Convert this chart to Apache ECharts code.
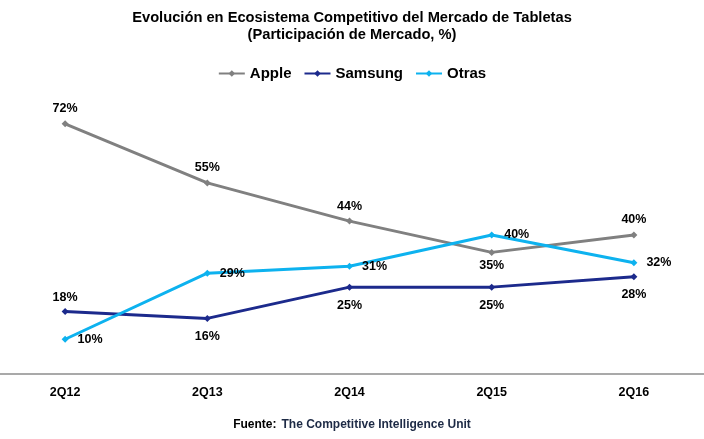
<!DOCTYPE html>
<html>
<head>
<meta charset="utf-8">
<script src="https://cdn.jsdelivr.net/npm/echarts@6/dist/echarts.min.js"></script>
<style>
html,body{margin:0;padding:0;background:#fff;}
#chart{width:704px;height:439px;}
</style>
</head>
<body>
<div id="chart"></div>
<script>
const categories = ['2Q12', '2Q13', '2Q14', '2Q15', '2Q16'];
const apple = [72, 55, 44, 35, 40];
const samsung = [18, 16, 25, 25, 28];
const otras = [10, 29, 31, 40, 32];
const seriesNames = ['Apple', 'Samsung', 'Otras'];
const titleText = 'Evolución en Ecosistema Competitivo del Mercado de Tabletas\n(Participación de Mercado, %)';
const sourceLabel = 'Fuente:';
const sourceText = 'The Competitive Intelligence Unit';

const colors = ['#808080', '#1c2a8c', '#0db2ef'];
const lblFont = {color: '#000', fontWeight: 'bold', fontSize: 12.5, fontFamily: 'Liberation Sans, Arial, sans-serif'};

function pct(p) { return p.value + '%'; }

const appleData = apple.map((v, i) => ({
  value: v,
  label: i === 3 ? {position: 'bottom', distance: 3} : {position: 'top', distance: 5}
}));
const samsungData = samsung.map((v, i) => ({
  value: v,
  label: i === 0 ? {position: 'top', distance: 4} : {position: 'bottom', distance: 8}
}));
const otrasData = otras.map(v => ({value: v, label: {position: 'right', distance: 9}}));

const chart = echarts.init(document.getElementById('chart'), null, {renderer: 'canvas'});
chart.setOption({
  animation: false,
  backgroundColor: '#fff',
  title: [{
    text: titleText,
    left: 'center',
    top: 4,
    textStyle: {fontSize: 14.7, fontWeight: 'bold', color: '#000', lineHeight: 17,
      fontFamily: 'Liberation Sans, Arial, sans-serif'}
  }, {
    text: '{b|' + sourceLabel + '} {n|' + sourceText + '}',
    left: 'center',
    top: 411,
    textStyle: {
      rich: {
        b: {fontSize: 12, fontWeight: 'bold', color: '#000', fontFamily: 'Liberation Sans, Arial, sans-serif'},
        n: {fontSize: 12, color: '#1d2a45', fontFamily: 'Liberation Sans, Arial, sans-serif'}
      }
    }
  }],
  legend: {
    data: seriesNames,
    left: 'center',
    top: 61,
    itemWidth: 26,
    itemHeight: 8,
    itemGap: 12,
    textStyle: {fontSize: 15, fontWeight: 'bold', color: '#000', fontFamily: 'Liberation Sans, Arial, sans-serif'}
  },
  grid: {left: -6, right: -1, top: 96, bottom: 65, containLabel: false, outerBoundsMode: 'none'},
  xAxis: {
    type: 'category',
    data: categories,
    boundaryGap: true,
    axisLine: {lineStyle: {color: '#8c8c8c', width: 1.5}},
    axisTick: {show: false},
    axisLabel: {margin: 12, color: '#000', fontWeight: 'bold', fontSize: 12.5, fontFamily: 'Liberation Sans, Arial, sans-serif'}
  },
  yAxis: {
    type: 'value',
    min: 0,
    max: 80,
    show: false,
    splitLine: {show: false}
  },
  series: [
    {name: seriesNames[0], type: 'line', data: appleData, color: colors[0],
     symbol: 'diamond', symbolSize: 7, lineStyle: {width: 3},
     label: Object.assign({show: true, formatter: pct}, lblFont)},
    {name: seriesNames[1], type: 'line', data: samsungData, color: colors[1],
     symbol: 'diamond', symbolSize: 7, lineStyle: {width: 3},
     label: Object.assign({show: true, formatter: pct}, lblFont)},
    {name: seriesNames[2], type: 'line', data: otrasData, color: colors[2],
     symbol: 'diamond', symbolSize: 7, lineStyle: {width: 3},
     label: Object.assign({show: true, formatter: pct}, lblFont)}
  ]
});
</script>
</body>
</html>
